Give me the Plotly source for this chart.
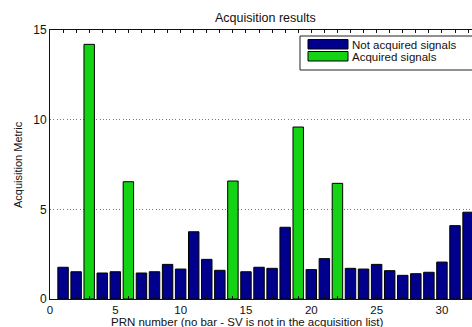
import plotly.graph_objects as go

# Acquisition metric for each PRN (1..32)
prn = list(range(1, 33))
metric = [1.77, 1.52, 14.2, 1.45, 1.52, 6.54, 1.45, 1.52, 1.93, 1.67,
          3.75, 2.21, 1.60, 6.58, 1.52, 1.77, 1.71, 4.00, 9.59, 1.64,
          2.25, 6.45, 1.71, 1.67, 1.93, 1.58, 1.32, 1.41, 1.49, 2.06,
          4.09, 4.84]
acquired_prn = [3, 6, 14, 19, 22]

x_tick_vals = list(range(0, 33))
x_tick_text = [str(v) if v % 5 == 0 else "" for v in x_tick_vals]
y_tick_vals = [0, 5, 10, 15]

NAVY = "#00008C"
GREEN = "#14D214"
FONT = "Liberation Sans, Arial, sans-serif"

not_acq_x = [p for p in prn if p not in acquired_prn]
not_acq_y = [metric[p - 1] for p in not_acq_x]
acq_x = [p for p in prn if p in acquired_prn]
acq_y = [metric[p - 1] for p in acq_x]

fig = go.Figure()
fig.add_trace(go.Bar(x=not_acq_x, y=not_acq_y, width=0.8, name="Not acquired signals",
                     marker=dict(color=NAVY, line=dict(color="black", width=1)),
                     showlegend=False))
fig.add_trace(go.Bar(x=acq_x, y=acq_y, width=0.8, name="Acquired signals",
                     marker=dict(color=GREEN, line=dict(color="black", width=1)),
                     showlegend=False))

# legend box drawn in paper coordinates
L, R, T, B = 50, 0, 30, 28
W, H = 472, 327
pw, ph = W - L - R, H - T - B

def px(xp):
    return (xp - L) / pw

def py(yp):
    return (H - B - yp) / ph

shapes = [
    dict(type="rect", xref="paper", yref="paper", x0=px(300), x1=px(480),
         y0=py(70), y1=py(36), line=dict(color="#222", width=1), fillcolor="white"),
    dict(type="rect", xref="paper", yref="paper", x0=px(308), x1=px(348),
         y0=py(49), y1=py(39.5), line=dict(color="black", width=1), fillcolor=NAVY),
    dict(type="rect", xref="paper", yref="paper", x0=px(308), x1=px(348),
         y0=py(61), y1=py(51.5), line=dict(color="black", width=1), fillcolor=GREEN),
]
annotations = [
    dict(text="Not acquired signals", xref="paper", yref="paper", x=px(350), y=py(44.5),
         xanchor="left", yanchor="middle", showarrow=False, font=dict(size=11.5, family=FONT, color="#111")),
    dict(text="Acquired signals", xref="paper", yref="paper", x=px(350), y=py(56.5),
         xanchor="left", yanchor="middle", showarrow=False, font=dict(size=11.5, family=FONT, color="#111")),
    dict(text="Acquisition results", xref="paper", yref="paper", x=px(265), y=py(18),
         xanchor="center", yanchor="middle", showarrow=False, font=dict(size=12.5, family=FONT, color="#111")),
    dict(text="PRN number (no bar - SV is not in the acquisition list)", xref="paper", yref="paper",
         x=px(247), y=py(321.5), xanchor="center", yanchor="middle", showarrow=False,
         font=dict(size=11.5, family=FONT, color="#111")),
    dict(text="Acquisition Metric", xref="paper", yref="paper", x=px(18), y=py(165),
         xanchor="center", yanchor="middle", showarrow=False, textangle=-90,
         font=dict(size=11, family=FONT, color="#111")),
]

fig.update_layout(
    width=W, height=H,
    margin=dict(l=L, r=R, t=T, b=B, pad=0),
    plot_bgcolor="white", paper_bgcolor="white",
    barmode="overlay",
    shapes=shapes, annotations=annotations,
    font=dict(family=FONT, size=12, color="#111"),
    xaxis=dict(range=[0, 32.3], tickvals=x_tick_vals, ticktext=x_tick_text,
               ticks="inside", ticklen=3, tickcolor="#111",
               showline=True, linecolor="#111", linewidth=1, mirror="ticks",
               showgrid=False, zeroline=False, tickfont=dict(size=11.5)),
    yaxis=dict(range=[0, 15], tickvals=y_tick_vals, ticks="", showline=True,
               linecolor="#111", linewidth=1, mirror=False,
               showgrid=True, gridcolor="#777", griddash="1px,2.3px", gridwidth=1,
               zeroline=False, tickfont=dict(size=12)),
)

fig.write_html("out.html")
